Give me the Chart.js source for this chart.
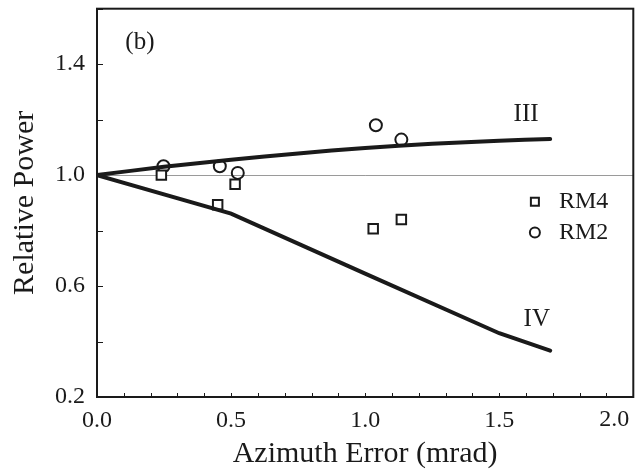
<!DOCTYPE html>
<html>
<head>
<meta charset="utf-8">
<script src="https://cdn.jsdelivr.net/npm/chart.js@4.4.1/dist/chart.umd.min.js"></script>
<style>
  body { margin: 0; background: #fff; }
  #wrap { width: 642px; height: 472px; }
</style>
</head>
<body>
<div id="wrap"><canvas id="power"></canvas></div>
<script>
// theory curves
const curveIIIx = [0, 0.25, 0.5, 0.75, 1.0, 1.25, 1.5, 1.69]
const curveIIIy = [1.0, 1.03, 1.055, 1.078, 1.098, 1.113, 1.124, 1.13]
const curveIVx = [0, 0.5, 1.0, 1.5, 1.69]
const curveIVy = [1.0, 0.861, 0.645, 0.43, 0.367]

// measurements
const rm4x = [0.24, 0.45, 0.515, 1.03, 1.135]
const rm4y = [1.0, 0.893, 0.967, 0.807, 0.84]
const rm2x = [0.248, 0.458, 0.525, 1.04, 1.135]
const rm2y = [1.032, 1.032, 1.008, 1.18, 1.128]

const xTickLabels = ['0.0', '0.5', '1.0', '1.5', '2.0']
const yTickLabels = ['0.2', '0.6', '1.0', '1.4']

const ink = '#1a1a1a'
const serif = '"Liberation Serif", "DejaVu Serif", serif'

const toPts = (xs, ys) => xs.map((x, i) => ({x: x, y: ys[i]}))
const lbl = (v, list) => {
  const s = v.toFixed(1)
  return list.includes(s) ? s : ''
}
const lastX = xTickLabels[xTickLabels.length - 1]

// inward ticks, frame, curve labels, legend
const decorations = {
  id: 'decorations',
  afterDraw(chart) {
    const {ctx, chartArea: a, scales: {x, y}} = chart
    ctx.save()
    ctx.strokeStyle = ink
    ctx.lineWidth = 1
    x.ticks.forEach(t => {
      const px = Math.round(x.getPixelForValue(t.value)) + 0.5
      ctx.beginPath(); ctx.moveTo(px, a.bottom); ctx.lineTo(px, a.bottom - 4); ctx.stroke()
    })
    y.ticks.forEach(t => {
      const py = Math.round(y.getPixelForValue(t.value)) + 0.5
      ctx.beginPath(); ctx.moveTo(a.left, py); ctx.lineTo(a.left + 6, py); ctx.stroke()
    })
    ctx.lineWidth = 2
    ctx.strokeRect(a.left, a.top, a.right - a.left, a.bottom - a.top)

    ctx.fillStyle = ink
    ctx.textBaseline = 'middle'
    // last x label kept inside the canvas
    ctx.font = '24px ' + serif
    ctx.textAlign = 'right'
    ctx.fillText(lastX, x.getPixelForValue(parseFloat(lastX)) - 4, a.bottom + 23)

    ctx.textAlign = 'center'
    ctx.font = '25px ' + serif
    ctx.fillText('(b)', x.getPixelForValue(0.16), y.getPixelForValue(1.48))
    ctx.fillText('III', x.getPixelForValue(1.6), y.getPixelForValue(1.22))
    ctx.fillText('IV', x.getPixelForValue(1.64), y.getPixelForValue(0.48))

    // legend
    ctx.font = '24px ' + serif
    ctx.textAlign = 'left'
    ctx.lineWidth = 2
    const lx = x.getPixelForValue(1.633)
    const ly1 = y.getPixelForValue(0.904)
    const ly2 = y.getPixelForValue(0.793)
    ctx.strokeRect(lx - 4, ly1 - 4, 8, 8)
    ctx.beginPath(); ctx.arc(lx, ly2, 5, 0, Math.PI * 2); ctx.stroke()
    ctx.fillText('RM4', lx + 24, ly1)
    ctx.fillText('RM2', lx + 24, ly2)
    ctx.restore()
  }
}

const chart = new Chart(document.getElementById('power'), {
  type: 'scatter',
  data: {
    datasets: [
      {label: 'III', type: 'line', data: toPts(curveIIIx, curveIIIy), borderColor: ink, borderWidth: 4,
       pointRadius: 0, tension: 0.3, borderCapStyle: 'round'},
      {label: 'IV', type: 'line', data: toPts(curveIVx, curveIVy), borderColor: ink, borderWidth: 4,
       pointRadius: 0, tension: 0, borderCapStyle: 'round'},
      {label: 'RM4', data: toPts(rm4x, rm4y), pointStyle: 'rect', pointRadius: 6.7,
       borderColor: ink, backgroundColor: '#fff', borderWidth: 2},
      {label: 'RM2', data: toPts(rm2x, rm2y), pointStyle: 'circle', pointRadius: 6,
       borderColor: ink, backgroundColor: 'rgba(255,255,255,0)', borderWidth: 2}
    ]
  },
  options: {
    responsive: true,
    maintainAspectRatio: false,
    animation: false,
    layout: {padding: {left: 0, right: 6, top: 7, bottom: 0}},
    plugins: {legend: {display: false}, tooltip: {enabled: false}},
    scales: {
      x: {
        type: 'linear', min: 0, max: 2.0,
        afterFit: s => { s.height = 75; s.paddingLeft = 0; s.paddingRight = 0 },
        grid: {display: false},
        border: {display: false},
        ticks: {stepSize: 0.1, autoSkip: false, maxRotation: 0, padding: 1, color: ink,
                font: {family: serif, size: 24},
                callback: v => v.toFixed(1) === lastX ? '' : lbl(v, xTickLabels)},
        title: {display: true, text: 'Azimuth Error (mrad)', color: ink,
                font: {family: serif, size: 30}, padding: {top: 0, bottom: 0}}
      },
      y: {
        type: 'linear', min: 0.2, max: 1.6,
        afterFit: s => { s.width = 97; s.paddingTop = 0; s.paddingBottom = 0 },
        grid: {drawTicks: false, lineWidth: 1,
               color: c => Math.abs(c.tick.value - 1.0) < 1e-6 ? '#9a9a9a' : 'rgba(0,0,0,0)'},
        border: {display: false},
        ticks: {stepSize: 0.2, padding: 12, color: ink,
                font: {family: serif, size: 24}, callback: v => lbl(v, yTickLabels)},
        title: {display: true, text: 'Relative Power', color: ink,
                font: {family: serif, size: 30}, padding: {top: 7, bottom: 0}}
      }
    }
  },
  plugins: [decorations]
})
</script>
</body>
</html>
